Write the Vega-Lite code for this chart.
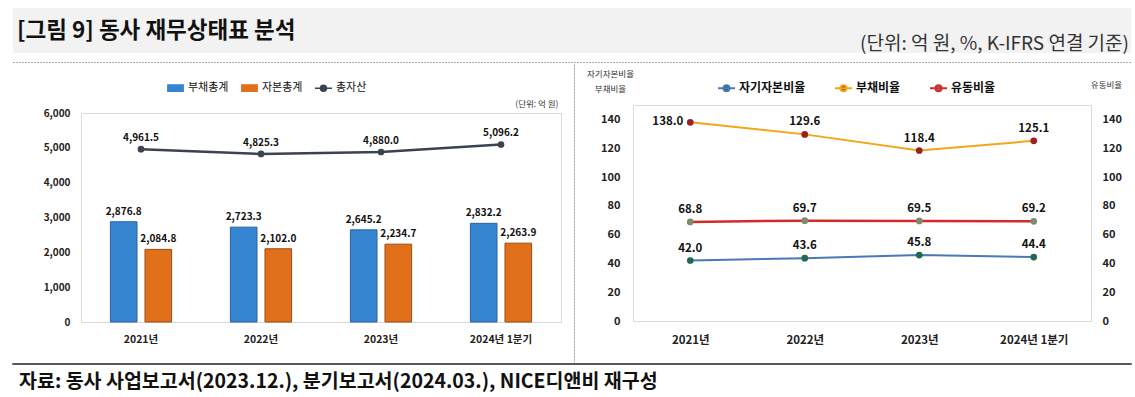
{
  "$schema": "https://vega.github.io/schema/vega-lite/v6.json",
  "background": "white",
  "padding": {"left": 12, "top": 8, "right": 4, "bottom": 0},
  "spacing": 0,
  "resolve": {"scale": {"color": "independent", "fill": "independent", "stroke": "independent"}},
  "config": {
    "font": "Noto Sans CJK KR",
    "view": {"stroke": null},
    "axis": {"labelFont": "Noto Sans CJK KR", "titleFont": "Noto Sans CJK KR", "labelOverlap": false},
    "axisY": {"labelOverlap": false},
    "axisQuantitative": {"labelOverlap": false},
    "legend": {"labelFont": "Noto Sans CJK KR"},
    "title": {"font": "Noto Sans CJK KR"}
  },
  "datasets": {
    "bs": [
      {"year": "2021년", "item": "부채총계", "value": 2876.8},
      {"year": "2021년", "item": "자본총계", "value": 2084.8},
      {"year": "2022년", "item": "부채총계", "value": 2723.3},
      {"year": "2022년", "item": "자본총계", "value": 2102.0},
      {"year": "2023년", "item": "부채총계", "value": 2645.2},
      {"year": "2023년", "item": "자본총계", "value": 2234.7},
      {"year": "2024년 1분기", "item": "부채총계", "value": 2832.2},
      {"year": "2024년 1분기", "item": "자본총계", "value": 2263.9}
    ],
    "assets": [
      {"year": "2021년", "value": 4961.5},
      {"year": "2022년", "value": 4825.3},
      {"year": "2023년", "value": 4880.0},
      {"year": "2024년 1분기", "value": 5096.2}
    ],
    "ratios": [
      {"year": "2021년", "series": "자기자본비율", "value": 42.0},
      {"year": "2022년", "series": "자기자본비율", "value": 43.6},
      {"year": "2023년", "series": "자기자본비율", "value": 45.8},
      {"year": "2024년 1분기", "series": "자기자본비율", "value": 44.4},
      {"year": "2021년", "series": "부채비율", "value": 138.0},
      {"year": "2022년", "series": "부채비율", "value": 129.6},
      {"year": "2023년", "series": "부채비율", "value": 118.4},
      {"year": "2024년 1분기", "series": "부채비율", "value": 125.1},
      {"year": "2021년", "series": "유동비율", "value": 68.8},
      {"year": "2022년", "series": "유동비율", "value": 69.7},
      {"year": "2023년", "series": "유동비율", "value": 69.5},
      {"year": "2024년 1분기", "series": "유동비율", "value": 69.2}
    ]
  },
  "vconcat": [
    {
      "width": 1118,
      "height": 45,
      "view": {"fill": "#f2f2f2", "stroke": null},
      "layer": [
        {
          "data": {"values": [{"t": "[그림 9] 동사 재무상태표 분석"}]},
          "mark": {"type": "text", "align": "left", "baseline": "middle", "fontSize": 22.5, "fontWeight": "bold", "color": "#111111", "dx": 4},
          "encoding": {
            "text": {"field": "t"},
            "x": {"datum": 0, "type": "quantitative", "scale": {"domain": [0, 1]}, "axis": null},
            "y": {"datum": 0.5, "type": "quantitative", "scale": {"domain": [0, 1]}, "axis": null}
          }
        },
        {
          "data": {"values": [{"t": "(단위: 억 원, %, K-IFRS 연결 기준)"}]},
          "mark": {"type": "text", "align": "right", "baseline": "middle", "fontSize": 19, "color": "#333333", "dx": -2},
          "encoding": {
            "text": {"field": "t"},
            "x": {"datum": 1, "type": "quantitative", "scale": {"domain": [0, 1]}, "axis": null},
            "y": {"datum": 0.2, "type": "quantitative", "scale": {"domain": [0, 1]}, "axis": null}
          }
        }
      ]
    },
    {
      "width": 1118,
      "height": 7,
      "data": {"values": []},
      "mark": "point"
    },
    {
      "width": 1118,
      "height": 0.001,
      "data": {"values": []},
      "mark": "point",
      "view": {"stroke": "#8c8c8c", "strokeDash": [1, 2], "strokeWidth": 1}
    },
    {
      "spacing": 11,
      "resolve": {"scale": {"color": "independent", "fill": "independent", "stroke": "independent"}},
      "hconcat": [
        {
          "width": 0.001,
          "height": 0.001,
          "data": {"values": []},
          "mark": "point"
        },
        {
          "spacing": 0,
          "resolve": {"scale": {"color": "independent", "fill": "independent", "stroke": "independent"}, "legend": {"color": "independent"}},
          "vconcat": [
            {"width": 0.001, "height": 0.001, "data": {"values": []}, "mark": "point"},
            {
              "width": 480,
              "height": 209,
              "view": {"stroke": "#d9d9d9"},
              "encoding": {
                "x": {
                  "field": "year", "type": "nominal", "sort": null,
                  "scale": {"paddingInner": 0.49, "paddingOuter": 0.245},
                  "axis": {
                    "labelAngle": 0, "labelFontSize": 10.5, "labelFontWeight": "bold", "labelColor": "#222222",
                    "labelPadding": 12, "ticks": false, "domain": false,
                    "title": "(단위: 억 원)", "titleX": 477, "titleY": -219, "titleAlign": "right", "titleBaseline": "middle",
                    "titleFontSize": 8.5, "titleFontWeight": "normal", "titleColor": "#333333", "titleAngle": 0
                  }
                },
                "y": {
                  "field": "value", "type": "quantitative",
                  "scale": {"domain": [0, 6000], "nice": false},
                  "axis": {
                    "values": [0, 1000, 2000, 3000, 4000, 5000, 6000], "tickCount": 7, "format": ",d", "labelOverlap": false,
                    "labelFontSize": 10, "labelFontWeight": "bold", "labelColor": "#222222", "labelPadding": 11,
                    "ticks": false, "domain": false, "grid": false,
                    "title": " ", "titleAngle": 0, "titleX": -55, "titleY": -47, "titleAlign": "left", "titleBaseline": "top", "titleFontSize": 8
                  }
                }
              },
              "layer": [
                {
                  "data": {"name": "bs"},
                  "mark": {"type": "bar", "strokeWidth": 1},
                  "encoding": {
                    "xOffset": {"field": "item", "sort": ["부채총계", "자본총계"], "scale": {"paddingInner": 0.231}},
                    "color": {
                      "field": "item", "type": "nominal",
                      "scale": {"domain": ["부채총계", "자본총계", "총자산"], "range": ["#3585d1", "#e0701a", "#3b4250"]},
                      "legend": {
                        "orient": "none", "legendX": 85, "legendY": -34.5, "direction": "horizontal", "title": null,
                        "symbolSize": 289, "labelFontSize": 11, "labelColor": "#111111", "columnPadding": 9, "labelOffset": 3,
                        "symbolStrokeWidth": 1.5,
                        "encode": {
                          "symbols": {
                            "update": {
                              "shape": {"signal": "datum.value === '총자산' ? 'M-1,0H1M0.35,0A0.35,0.35,0,1,1,-0.35,0A0.35,0.35,0,1,1,0.35,0Z' : 'M-0.9,-0.38H0.9V0.38H-0.9Z'"},
                              "fill": {"signal": "datum.value === '부채총계' ? '#3585d1' : datum.value === '자본총계' ? '#e0701a' : '#3b4250'"},
                              "stroke": {"signal": "datum.value === '부채총계' ? '#2a629c' : datum.value === '자본총계' ? '#9c4a10' : '#3b4250'"},
                              "opacity": {"value": 1},
                              "fillOpacity": {"value": 1},
                              "strokeWidth": {"value": 1.5}
                            }
                          }
                        }
                      }
                    },
                    "stroke": {
                      "field": "item", "type": "nominal",
                      "scale": {"domain": ["부채총계", "자본총계"], "range": ["#2a629c", "#9c4a10"]},
                      "legend": null
                    }
                  }
                },
                {
                  "data": {"name": "bs"},
                  "mark": {"type": "text", "dy": -10, "fontSize": 10, "fontWeight": "bold", "color": "#111111"},
                  "encoding": {
                    "xOffset": {"field": "item", "sort": ["부채총계", "자본총계"]},
                    "text": {"field": "value", "type": "quantitative", "format": ",.1f"}
                  }
                },
                {
                  "data": {"name": "assets"},
                  "mark": {"type": "line", "strokeWidth": 2.5},
                  "encoding": {"color": {"datum": "총자산"}}
                },
                {
                  "data": {"name": "assets"},
                  "mark": {"type": "point", "filled": true, "size": 45, "opacity": 1},
                  "encoding": {"color": {"datum": "총자산"}}
                },
                {
                  "data": {"name": "assets"},
                  "mark": {"type": "text", "dy": -11, "fontSize": 10, "fontWeight": "bold", "color": "#111111"},
                  "encoding": {"text": {"field": "value", "type": "quantitative", "format": ",.1f"}}
                }
              ]
            }
          ]
        },
        {
          "width": 0.001,
          "height": 298,
          "data": {"values": []},
          "mark": "point",
          "view": {"stroke": "#8c8c8c", "strokeDash": [1, 2], "strokeWidth": 1}
        },
        {
          "spacing": 0,
          "resolve": {"scale": {"color": "independent", "fill": "independent", "stroke": "independent"}, "legend": {"color": "independent"}},
          "vconcat": [
            {"width": 0.001, "height": 0.001, "data": {"values": []}, "mark": "point"},
            {
              "width": 458,
              "height": 216,
              "view": {"stroke": "#d9d9d9"},
              "data": {"name": "ratios"},
              "encoding": {
                "x": {
                  "field": "year", "type": "nominal", "sort": null,
                  "scale": {"paddingInner": 0, "paddingOuter": 0},
                  "axis": {
                    "labelAngle": 0, "labelFontSize": 11.5, "labelFontWeight": "bold", "labelColor": "#222222",
                    "labelPadding": 13, "ticks": false, "domain": false,
                    "title": " ", "titleX": 200, "titleY": -255, "titleBaseline": "top", "titleFontSize": 8
                  }
                }
              },
              "layer": [
                {
                  "transform": [{"filter": "datum.series !== '유동비율'"}],
                  "encoding": {
                    "y": {
                      "field": "value", "type": "quantitative",
                      "scale": {"domain": [0, 150]},
                      "axis": {
                        "values": [0, 20, 40, 60, 80, 100, 120, 140], "labelOverlap": false,
                        "labelFontSize": 11, "labelFontWeight": "bold", "labelColor": "#222222", "labelPadding": 13,
                        "ticks": false, "domain": false, "grid": false,
                        "title": ["자기자본비율", "부채비율"], "titleAngle": 0, "titleX": -23, "titleY": -36,
                        "titleAlign": "center", "titleBaseline": "top", "titleFontSize": 8.5, "titleFontWeight": "normal",
                        "titleColor": "#333333", "titleLineHeight": 15
                      }
                    }
                  },
                  "layer": [
                    {
                      "mark": {"type": "line", "strokeWidth": 2},
                      "encoding": {
                        "color": {
                          "field": "series", "type": "nominal",
                          "scale": {"domain": ["자기자본비율", "부채비율", "유동비율"], "range": ["#4a78b8", "#f2a71b", "#d42a2a"]},
                          "legend": {
                            "orient": "none", "legendX": 84, "legendY": -26.5, "direction": "horizontal", "title": null,
                            "symbolSize": 289, "labelFontSize": 12, "labelFontWeight": "bold", "labelColor": "#111111",
                            "columnPadding": 25, "labelOffset": 3, "symbolStrokeWidth": 2,
                            "encode": {
                              "symbols": {
                                "update": {
                                  "shape": {"value": "M-1,0H1M0.35,0A0.35,0.35,0,1,1,-0.35,0A0.35,0.35,0,1,1,0.35,0Z"},
                                  "fill": {"signal": "datum.value === '자기자본비율' ? '#1e6a4c' : datum.value === '부채비율' ? '#9e1e1e' : '#7f8b6d'"},
                                  "stroke": {"signal": "datum.value === '자기자본비율' ? '#2b6e6e' : datum.value === '부채비율' ? '#f2a71b' : '#d42a2a'"},
                                  "fillOpacity": {"value": 1},
                                  "opacity": {"value": 1},
                                  "strokeWidth": {"value": 2}
                                }
                              }
                            }
                          }
                        }
                      }
                    },
                    {
                      "mark": {"type": "point", "filled": true, "size": 45, "opacity": 1},
                      "encoding": {
                        "fill": {
                          "field": "series", "type": "nominal",
                          "scale": {"domain": ["자기자본비율", "부채비율", "유동비율"], "range": ["#1e6a4c", "#9e1e1e", "#7f8b6d"]},
                          "legend": null
                        }
                      }
                    },
                    {
                      "transform": [{"filter": "!(datum.series === '부채비율' && datum.year === '2021년')"}],
                      "mark": {"type": "text", "dy": -12, "fontSize": 11.5, "fontWeight": "bold", "color": "#111111"},
                      "encoding": {"text": {"field": "value", "type": "quantitative", "format": ".1f"}}
                    },
                    {
                      "transform": [{"filter": "datum.series === '부채비율' && datum.year === '2021년'"}],
                      "mark": {"type": "text", "align": "right", "baseline": "middle", "dx": -7, "fontSize": 11.5, "fontWeight": "bold", "color": "#111111"},
                      "encoding": {"text": {"field": "value", "type": "quantitative", "format": ".1f"}}
                    },
                    {
                      "data": {"values": [{"t": "(단위: %)"}]},
                      "mark": {"type": "text", "align": "right", "baseline": "middle", "dx": 51, "dy": -8, "fontSize": 8.5, "color": "#333333"},
                      "encoding": {
                        "x": {"datum": "2024년 1분기"},
                        "y": {"datum": 150, "type": "quantitative"},
                        "text": {"field": "t"}
                      }
                    }
                  ]
                },
                {
                  "transform": [{"filter": "datum.series === '유동비율'"}],
                  "encoding": {
                    "y": {
                      "field": "value", "type": "quantitative",
                      "scale": {"domain": [0, 150]},
                      "axis": {
                        "orient": "right", "labelOverlap": false,
                        "values": [0, 20, 40, 60, 80, 100, 120, 140],
                        "labelFontSize": 11, "labelFontWeight": "bold", "labelColor": "#222222", "labelPadding": 11,
                        "ticks": false, "domain": false, "grid": false,
                        "title": "유동비율", "titleAngle": 0, "titleX": 15, "titleY": -21,
                        "titleAlign": "center", "titleBaseline": "middle", "titleFontSize": 8.5, "titleFontWeight": "normal",
                        "titleColor": "#333333"
                      }
                    }
                  },
                  "layer": [
                    {
                      "mark": {"type": "line", "strokeWidth": 2.5},
                      "encoding": {"color": {"field": "series", "type": "nominal"}}
                    },
                    {
                      "mark": {"type": "point", "filled": true, "size": 45, "opacity": 1},
                      "encoding": {"fill": {"field": "series", "type": "nominal", "legend": null}}
                    },
                    {
                      "mark": {"type": "text", "dy": -12, "fontSize": 11.5, "fontWeight": "bold", "color": "#111111"},
                      "encoding": {"text": {"field": "value", "type": "quantitative", "format": ".1f"}}
                    }
                  ]
                }
              ],
              "resolve": {"scale": {"y": "independent"}}
            }
          ]
        }
      ]
    },
    {
      "width": 1118,
      "height": 0.001,
      "data": {"values": []},
      "mark": "point",
      "view": {"stroke": "#222222", "strokeWidth": 1.5},
      "title": {
        "text": "자료: 동사 사업보고서(2023.12.), 분기보고서(2024.03.), NICE디앤비 재구성",
        "orient": "bottom", "anchor": "start", "frame": "group", "offset": 9,
        "fontSize": 19.5, "fontWeight": "bold", "color": "#111111", "dx": 6, "baseline": "top"
      }
    }
  ]
}
